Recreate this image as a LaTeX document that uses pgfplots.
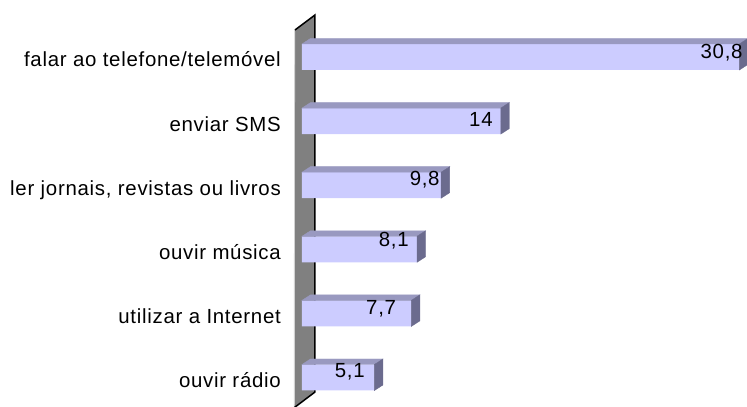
\documentclass[border=0pt]{standalone}
\usepackage{pgfplots}
\pgfplotsset{compat=1.18}
\usepackage{fontspec}
\setmainfont{Liberation Sans}[LetterSpace=3.5]
\definecolor{barfront}{HTML}{CCCCFF}
\definecolor{bartop}{HTML}{9999C0}
\definecolor{barside}{HTML}{6B6B8E}
\definecolor{wallgray}{HTML}{808080}
\newcommand{\lblfont}{\fontsize{20.5}{24}\selectfont}
\begin{document}
\begin{tikzpicture}
\begin{axis}[
  x=14.2bp, y=64.1bp,
  xmin=0, xmax=31, ymin=-0.5, ymax=5.5,
  clip=false,
  axis line style={draw=none},
  xtick=\empty,
  ytick={0,1,2,3,4,5},
  yticklabels={ouvir rádio, utilizar a Internet, ouvir música, {ler jornais, revistas ou livros}, enviar SMS, falar ao telefone/telemóvel},
  major tick length=0pt,
  yticklabel style={anchor=base east, inner sep=0pt, xshift=-21bp, yshift=-10bp, font=\lblfont},
]
\coordinate (o) at (axis cs:0,0);
% wall
\fill[wallgray] ([shift={(-7.5bp,-30bp)}]o) -- ([shift={(13bp,-14.5bp)}]o) -- ([shift={(13bp,362.5bp)}]o) -- ([shift={(-7bp,347.5bp)}]o) -- cycle;
\draw[gray!35, line width=0.8bp] ([shift={(-7.8bp,-30bp)}]o) -- ([shift={(-7.3bp,347.5bp)}]o);
\draw[black, line width=1.5bp] ([shift={(-7bp,347.5bp)}]o) -- ([shift={(13bp,362.5bp)}]o) -- ([shift={(13bp,-14.5bp)}]o) -- ([shift={(-7.5bp,-30bp)}]o);
% 3D faces of the bars
\addplot[only marks, mark=*, mark size=0pt, mark options={draw=none, fill=none},
  scatter, visualization depends on={rawx \as \bv},
  scatter/@pre marker code/.code={%
    \fill[bartop] ({-\bv*14.2bp},13bp) -- (0bp,13bp) -- (8.5bp,18.5bp) -- ({-\bv*14.2bp+8.5bp},18.5bp) -- cycle;
    \fill[barside] (0bp,13bp) -- (8.5bp,18.5bp) -- (8.5bp,-7.5bp) -- (0bp,-13bp) -- cycle;
  },
  scatter/@post marker code/.code={}
] coordinates {(5.1,0) (7.7,1) (8.1,2) (9.8,3) (14,4) (30.8,5)};
% front faces
\addplot[xbar, bar width=26bp, fill=barfront, draw=none]
  coordinates {(5.1,0) (7.7,1) (8.1,2) (9.8,3) (14,4) (30.8,5)};
% value labels
\addplot[draw=none, mark=none, nodes near coords, point meta=explicit symbolic,
  nodes near coords style={anchor=base, inner sep=0pt, font=\lblfont, text=black}]
  table[meta=lab] {
x y lab
3.36 0.0 5,1
5.57 0.99 7,7
6.46 2.037 8,1
8.64 2.99 9,8
12.6 3.914 14
29.55 4.969 30,8
};
\end{axis}
\pgfresetboundingbox
\path[use as bounding box] ([shift={(-302bp,-29.5bp)}]o) rectangle ([shift={(445bp,377.5bp)}]o);
\end{tikzpicture}
\end{document}
